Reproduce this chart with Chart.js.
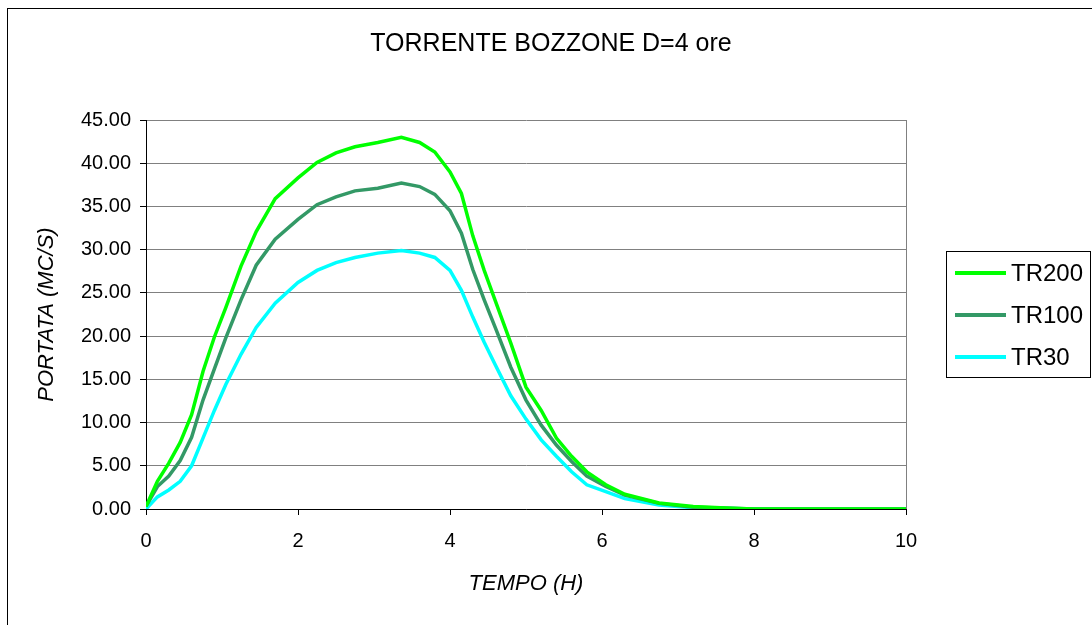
<!DOCTYPE html>
<html>
<head>
<meta charset="utf-8">
<script src="https://cdn.jsdelivr.net/npm/chart.js@4.4.1/dist/chart.umd.min.js"></script>
<style>
  html, body { margin: 0; padding: 0; background: #ffffff; }
  canvas { display: block; }
</style>
</head>
<body>
<canvas id="c" width="1092" height="625"></canvas>
<script>
const TITLE = "TORRENTE BOZZONE D=4 ore";
const X_TITLE = "TEMPO (H)";
const Y_TITLE = "PORTATA (MC/S)";
const SERIES_NAMES = ["TR200", "TR100", "TR30"];

const tempo = [0, 0.15, 0.3, 0.45, 0.6, 0.75, 0.9, 1.05, 1.25, 1.45, 1.7, 2.0, 2.25, 2.5, 2.75, 3.05, 3.36, 3.6, 3.8, 4.0, 4.15, 4.3, 4.45, 4.6, 4.8, 5.0, 5.2, 5.4, 5.6, 5.8, 6.05, 6.3, 6.75, 7.2, 7.7, 8.0, 10];
const tr200 = [0.3, 3.2, 5.3, 7.7, 10.9, 15.9, 19.9, 23.3, 28.1, 32.1, 35.9, 38.3, 40.1, 41.2, 41.9, 42.4, 43.0, 42.4, 41.3, 39.0, 36.5, 31.6, 27.6, 24.0, 19.2, 14.1, 11.4, 8.2, 6.1, 4.3, 2.8, 1.7, 0.7, 0.3, 0.1, 0.0, 0.0];
const tr100 = [0.3, 2.6, 3.8, 5.6, 8.3, 12.6, 16.2, 19.8, 24.2, 28.2, 31.2, 33.5, 35.2, 36.1, 36.8, 37.1, 37.7, 37.3, 36.4, 34.5, 31.9, 27.7, 24.2, 20.9, 16.4, 12.6, 9.7, 7.4, 5.5, 3.8, 2.6, 1.6, 0.65, 0.2, 0.1, 0.0, 0.0];
const tr30 = [0.0, 1.4, 2.2, 3.2, 5.0, 8.2, 11.4, 14.4, 17.9, 21.0, 23.8, 26.2, 27.6, 28.5, 29.1, 29.6, 29.9, 29.6, 29.1, 27.6, 25.3, 22.2, 19.3, 16.6, 13.1, 10.4, 8.0, 6.1, 4.3, 2.8, 2.0, 1.2, 0.45, 0.15, 0.05, 0.0, 0.0];

const COLORS = ["#00FF00", "#339966", "#00FFFF"];
const FONT = "'Liberation Sans', Arial, sans-serif";

function toPoints(xs, ys) { return xs.map((x, i) => ({ x: x, y: ys[i] })); }

const frameAndTitle = {
  id: 'frameAndTitle',
  beforeDraw(chart) {
    const ctx = chart.ctx;
    ctx.save();
    ctx.fillStyle = '#ffffff';
    ctx.fillRect(0, 0, chart.width, chart.height);
    ctx.strokeStyle = '#000000';
    ctx.lineWidth = 1;
    ctx.strokeRect(7.5, 8.5, chart.width + 10, chart.height + 10);
    ctx.restore();
  },
  afterDraw(chart) {
    const ctx = chart.ctx;
    ctx.save();
    ctx.fillStyle = '#000000';
    ctx.font = "25px " + FONT;
    ctx.textAlign = 'center';
    ctx.textBaseline = 'middle';
    ctx.fillText(TITLE, 551, 44);
    // legend
    const bx = 946, by = 251, bw = 144, bh = 126;
    ctx.strokeStyle = '#000000';
    ctx.lineWidth = 1;
    ctx.strokeRect(bx + 0.5, by + 0.5, bw, bh);
    ctx.font = "24px " + FONT;
    ctx.textAlign = 'left';
    chart.data.datasets.forEach((ds, i) => {
      const y = 273 + i * 42;
      ctx.strokeStyle = ds.borderColor;
      ctx.lineWidth = 4;
      ctx.beginPath();
      ctx.moveTo(955, y);
      ctx.lineTo(1006, y);
      ctx.stroke();
      ctx.fillStyle = '#000000';
      ctx.fillText(ds.label, 1011, y + 1);
    });
    ctx.restore();
  }
};

new Chart(document.getElementById('c'), {
  type: 'line',
  data: {
    datasets: [
      { label: SERIES_NAMES[0], data: toPoints(tempo, tr200), borderColor: COLORS[0], backgroundColor: COLORS[0], borderWidth: 3.5, pointRadius: 0, tension: 0, fill: false },
      { label: SERIES_NAMES[1], data: toPoints(tempo, tr100), borderColor: COLORS[1], backgroundColor: COLORS[1], borderWidth: 3.5, pointRadius: 0, tension: 0, fill: false },
      { label: SERIES_NAMES[2], data: toPoints(tempo, tr30), borderColor: COLORS[2], backgroundColor: COLORS[2], borderWidth: 3.5, pointRadius: 0, tension: 0, fill: false }
    ]
  },
  options: {
    responsive: false,
    animation: false,
    devicePixelRatio: 1,
    layout: { padding: { top: 120, left: 8, right: 186, bottom: 0 } },
    plugins: {
      legend: { display: false },
      title: { display: false },
      tooltip: { enabled: false }
    },
    scales: {
      x: {
        type: 'linear',
        min: 0, max: 10,
        ticks: { stepSize: 2, color: '#000', font: { family: FONT, size: 20 }, padding: 14, maxRotation: 0 },
        grid: {
          color: (c) => (c.tick && c.tick.value === 10) ? '#808080' : 'rgba(0,0,0,0)',
          tickColor: '#000',
          tickLength: 6,
          lineWidth: 1
        },
        border: { color: '#000', width: 1 },
        title: { display: true, text: X_TITLE, color: '#000', font: { family: FONT, size: 22, style: 'italic' }, padding: { top: 0, bottom: 28 } },
        afterFit: (s) => { s.height = 116; }
      },
      y: {
        type: 'linear',
        min: 0, max: 45,
        ticks: { stepSize: 5, color: '#000', font: { family: FONT, size: 20 }, padding: 9, callback: (v) => Number(v).toFixed(2) },
        grid: { color: '#808080', tickColor: '#000', tickLength: 6, lineWidth: 1 },
        border: { color: '#000', width: 1 },
        title: { display: true, text: Y_TITLE, color: '#000', font: { family: FONT, size: 22, style: 'italic' }, padding: { top: 26, bottom: 0 } },
        afterFit: (s) => { s.width = 138; }
      }
    }
  },
  plugins: [frameAndTitle]
});
</script>
</body>
</html>
